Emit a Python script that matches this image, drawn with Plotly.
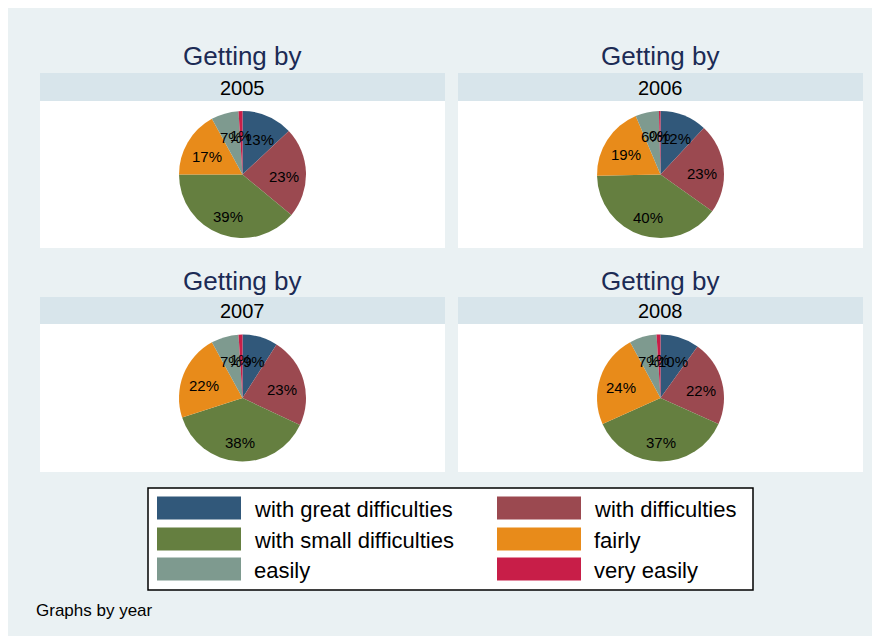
import math
import plotly.graph_objects as go

# ---------------- data ----------------
categories = ["with great difficulties", "with difficulties", "with small difficulties",
              "fairly", "easily", "very easily"]
years = ["2005", "2006", "2007", "2008"]
values_2005 = [13, 23, 39, 17, 7, 1]
values_2006 = [12, 23, 40, 19, 6, 0.4]
values_2007 = [9, 23, 38, 22, 7, 1]
values_2008 = [10, 22, 37, 24, 7, 1]
panel_title = "Getting by"
note_text = "Graphs by year"

colors = ["#31587A", "#9B4950", "#657F40", "#E88B1A", "#7E9A8F", "#C81E48"]

W, H = 880, 636
OFF = 8  # page body margin
FONT = "Liberation Sans, Arial, sans-serif"

def px(x):
    return (x - OFF) / W

def py(y):
    return 1 - (y - OFF) / H

# panel layout in page pixels (left, right, header_top, header_bottom, white_bottom)
panels = [
    (40, 445, 73, 101, 248),
    (458, 863, 73, 101, 248),
    (40, 445, 297, 324, 472),
    (458, 863, 297, 324, 472),
]
series = [values_2005, values_2006, values_2007, values_2008]
R = 63.5

fig = go.Figure()
shapes = []
annotations = []

for (x0, x1, ht, hb, wb), vals, yr in zip(panels, series, years):
    shapes.append(dict(type="rect", xref="paper", yref="paper", x0=px(x0), x1=px(x1),
                       y0=py(hb), y1=py(ht), fillcolor="#D8E5EB", line=dict(width=0), layer="below"))
    shapes.append(dict(type="rect", xref="paper", yref="paper", x0=px(x0), x1=px(x1),
                       y0=py(wb), y1=py(hb), fillcolor="#FFFFFF", line=dict(width=0), layer="below"))
    cx = (x0 + x1) / 2
    cy = (hb + wb) / 2
    annotations.append(dict(text=panel_title, xref="paper", yref="paper", x=px(cx), y=py(ht - 16.5),
                            showarrow=False, xanchor="center", yanchor="middle",
                            font=dict(family=FONT, size=26, color="#1C2B55")))
    annotations.append(dict(text=yr, xref="paper", yref="paper", x=px(cx), y=py((ht + hb) / 2 + 1),
                            showarrow=False, xanchor="center", yanchor="middle",
                            font=dict(family=FONT, size=20, color="#000000")))
    fig.add_trace(go.Pie(
        labels=categories, values=vals, sort=False, direction="clockwise", rotation=0,
        marker=dict(colors=colors, line=dict(width=0)),
        textinfo="none",
        domain=dict(x=[px(cx - R), px(cx + R)], y=[py(cy + R), py(cy - R)]),
        showlegend=False, hoverinfo="label+percent",
    ))
    # percentage labels, placed along each slice's bisector (derived from the values)
    total = sum(vals)
    cum = 0.0
    for v in vals:
        mid = (cum + v / 2) / total
        cum += v
        ang = 2 * math.pi * mid
        lx = cx + 0.655 * R * math.sin(ang)
        ly = cy - 0.655 * R * math.cos(ang) + 3
        annotations.append(dict(text=f"{round(100 * v / total)}%", xref="paper", yref="paper",
                                x=px(lx), y=py(ly), showarrow=False, xanchor="center",
                                yanchor="middle",
                                font=dict(family=FONT, size=15, color="#000000")))

# legend box
shapes.append(dict(type="rect", xref="paper", yref="paper", x0=px(148), x1=px(753),
                   y0=py(590), y1=py(488), fillcolor="#FFFFFF", line=dict(color="#000000", width=1.5)))
col_x = [157, 497]
row_y = [508, 539, 569]
for i, (cat, col) in enumerate(zip(categories, colors)):
    cxl = col_x[i % 2]
    ryl = row_y[i // 2]
    shapes.append(dict(type="rect", xref="paper", yref="paper", x0=px(cxl), x1=px(cxl + 84),
                       y0=py(ryl + 11.5), y1=py(ryl - 11.5), fillcolor=col, line=dict(width=0)))
    annotations.append(dict(text=cat, xref="paper", yref="paper", x=px(cxl + 95), y=py(ryl + 1),
                            showarrow=False, xanchor="left", yanchor="middle",
                            font=dict(family=FONT, size=22, color="#000000")))

annotations.append(dict(text=note_text, xref="paper", yref="paper", x=px(33.5), y=py(610),
                        showarrow=False, xanchor="left", yanchor="middle",
                        font=dict(family=FONT, size=17, color="#000000")))

fig.update_layout(
    width=W, height=H, margin=dict(l=0, r=0, t=0, b=0),
    paper_bgcolor="#EAF1F3", plot_bgcolor="#EAF1F3",
    shapes=shapes, annotations=annotations,
)

fig.write_html("out.html")
